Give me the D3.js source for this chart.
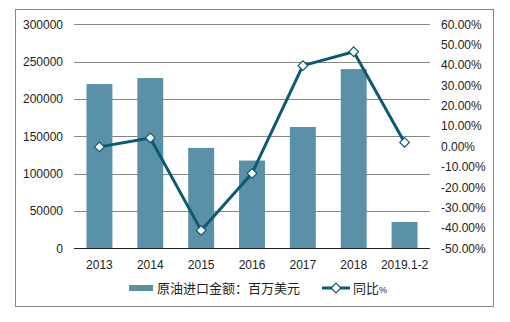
<!DOCTYPE html>
<html><head><meta charset="utf-8">
<script src="https://cdn.jsdelivr.net/npm/d3@7"></script>
<style>body{margin:0;background:#fff}svg{display:block}</style>
</head><body>
<script>
const categories = ["2013","2014","2015","2016","2017","2018","2019.1-2"];
const importValues = [220000, 228000, 134500, 117500, 162500, 240000, 35200];
const yoyValues = [-0.2, 4.2, -41.2, -13.2, 39.7, 46.5, 2.0];
const leftTicks = [0, 50000, 100000, 150000, 200000, 250000, 300000];
const rightTicks = [-50, -40, -30, -20, -10, 0, 10, 20, 30, 40, 50, 60];
const barName = "原油进口金额：百万美元";
const lineName = "同比";

(function () {
const W = 510, H = 322;
const svg = d3.select("body").append("svg").attr("width", W).attr("height", H);
svg.append("rect").attr("x", 15.5).attr("y", 9.5).attr("width", 478).attr("height", 297)
  .attr("fill", "#fff").attr("stroke", "#868686").attr("stroke-width", 1);

const pLeft = 74, pRight = 430, pTop = 24.3, pBottom = 248.3;
const x = d3.scaleBand().domain(categories).range([pLeft, pRight]).paddingInner(0.49).paddingOuter(0.245);
const y = d3.scaleLinear().domain([0, 300000]).range([pBottom, pTop]);
const y2 = d3.scaleLinear().domain([-50, 60]).range([pBottom, pTop]);

const font = "'Liberation Sans', Arial, sans-serif";

// gridlines
svg.append("g").selectAll("line").data(leftTicks.filter(d => d > 0)).join("line")
  .attr("x1", pLeft).attr("x2", pRight)
  .attr("y1", d => Math.round(y(d)) + 0.5).attr("y2", d => Math.round(y(d)) + 0.5)
  .attr("stroke", "#868686").attr("stroke-width", 1);

// left axis
const ly = d3.axisLeft(y).tickValues(leftTicks).tickSize(0).tickPadding(11).tickFormat(d3.format("d"));
const gl = svg.append("g").attr("transform", `translate(${pLeft},0)`).call(ly);
gl.select(".domain").remove();
gl.selectAll("text").attr("font-family", font).attr("font-size", 12).attr("fill", "#222");

// right axis
const ry = d3.axisRight(y2).tickValues(rightTicks).tickSize(0).tickPadding(11).tickFormat(d => d.toFixed(2) + "%");
const gr = svg.append("g").attr("transform", `translate(${pRight},0)`).call(ry);
gr.select(".domain").remove();
gr.selectAll("text").attr("font-family", font).attr("font-size", 12).attr("fill", "#222");

// bars
svg.append("g").selectAll("rect").data(categories).join("rect")
  .attr("x", d => x(d)).attr("width", x.bandwidth())
  .attr("y", (d, i) => y(importValues[i])).attr("height", (d, i) => y(0) - y(importValues[i]))
  .attr("fill", "#5b91a8");

// x axis
const xa = d3.axisBottom(x).tickSize(0).tickPadding(12);
const gx = svg.append("g").attr("transform", `translate(0,${Math.round(pBottom) + 0.5})`).call(xa);
gx.select(".domain").attr("stroke", "#222").attr("d", `M${pLeft},0H${pRight}`);
gx.selectAll("text").attr("font-family", font).attr("font-size", 12).attr("fill", "#222");

// line
const cx = d => x(d) + x.bandwidth() / 2;
const lineGen = d3.line().x((d, i) => cx(categories[i])).y(d => y2(d));
svg.append("path").datum(yoyValues).attr("d", lineGen)
  .attr("fill", "none").attr("stroke", "#0b5a72").attr("stroke-width", 3).attr("stroke-linejoin", "round");
const diamond = d3.symbol().type(d3.symbolDiamond2).size(60);
svg.append("g").selectAll("path").data(yoyValues).join("path")
  .attr("transform", (d, i) => `translate(${cx(categories[i])},${y2(d)})`)
  .attr("d", diamond).attr("fill", "#fff").attr("stroke", "#0b5a72").attr("stroke-width", 1.2);

// legend
const lg = svg.append("g");
lg.append("rect").attr("x", 129).attr("y", 285).attr("width", 24).attr("height", 6).attr("fill", "#5b91a8");
lg.append("text").attr("x", 157).attr("y", 293).attr("font-family", "'Noto Sans CJK SC', sans-serif")
  .attr("font-size", 13).attr("fill", "#222").text(barName);
lg.append("line").attr("x1", 322).attr("x2", 350).attr("y1", 288).attr("y2", 288)
  .attr("stroke", "#0b5a72").attr("stroke-width", 3);
lg.append("path").attr("transform", "translate(336,288)").attr("d", diamond)
  .attr("fill", "#fff").attr("stroke", "#0b5a72").attr("stroke-width", 1.2);
const lt = lg.append("text").attr("x", 353).attr("y", 293).attr("font-family", "'Noto Sans CJK SC', sans-serif")
  .attr("font-size", 13).attr("fill", "#222");
lt.append("tspan").text(lineName);
lt.append("tspan").attr("font-size", 9).attr("font-family", font).text("%");
})();
</script>
</body></html>
